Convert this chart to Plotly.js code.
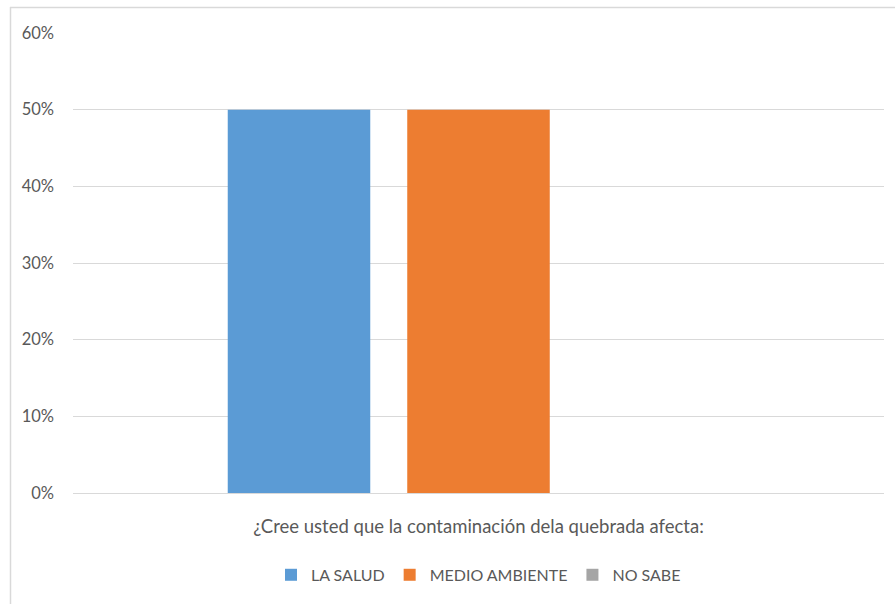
<!DOCTYPE html>
<html>
<head>
<meta charset="utf-8">
<script src="https://cdn.plot.ly/plotly-3.0.1.min.js"></script>
<style>html,body{margin:0;padding:0;background:#fff}#chart{width:895px;height:604px}</style>
</head>
<body>
<div id="chart"></div>
<script>
const category = ["¿Cree usted que la contaminación dela quebrada afecta:"];
const seriesNames = ["LA SALUD", "MEDIO AMBIENTE", "NO SABE"];
const laSalud = [0.5];
const medioAmbiente = [0.5];
const noSabe = [0];
const colors = ["#5B9BD5", "#ED7D31", "#A5A5A5"];
const tickVals = [0, 0.1, 0.2, 0.3, 0.4, 0.5, 0.6];
const tickText = ["0%", "10%", "20%", "30%", "40%", "50%", "60%"];

const values = [laSalud, medioAmbiente, noSabe];
const traces = seriesNames.map((n, i) => ({
  type: "bar",
  name: n,
  x: category,
  y: values[i],
  marker: {color: colors[i]},
  hoverinfo: "none"
}));

const W = 811, H = 460;
const layout = {
  width: 895, height: 604,
  margin: {l: 73, r: 11, t: 33, b: 111},
  paper_bgcolor: "#fff", plot_bgcolor: "#fff",
  font: {family: "Lato, sans-serif", color: "#595959", size: 16},
  barmode: "group",
  bargap: 0.336,
  bargroupgap: 0.206,
  showlegend: true,
  legend: {orientation: "h", x: 0.5, xanchor: "center", y: -0.178, yanchor: "middle",
           font: {size: 16, color: "#595959"}, itemwidth: 30, traceorder: "normal"},
  xaxis: {
    showticklabels: false, showgrid: false, zeroline: false, showline: false, ticks: "",
    title: {text: category[0], font: {size: 18.5, color: "#595959"}, standoff: 27}
  },
  yaxis: {
    range: [0, 0.6], tickvals: tickVals, ticktext: tickText,
    showgrid: true, gridcolor: "#D9D9D9", gridwidth: 1,
    zeroline: true, zerolinecolor: "#D9D9D9", zerolinewidth: 1,
    showline: false, ticks: "", ticklabelstandoff: 18,
    tickfont: {size: 16.5, color: "#595959"}
  },
  shapes: [
    {type: "line", xref: "paper", yref: "paper", x0: (10 - 73) / W, x1: (895 - 73) / W,
     y0: 1 + (33 - 7.5) / H, y1: 1 + (33 - 7.5) / H, line: {color: "#D9D9D9", width: 1.5}},
    {type: "line", xref: "paper", yref: "paper", x0: (10.5 - 73) / W, x1: (10.5 - 73) / W,
     y0: 1 + (33 - 7) / H, y1: -(111 + 5) / H, line: {color: "#D9D9D9", width: 1.5}}
  ]
};

Plotly.newPlot("chart", traces, layout, {displayModeBar: false, staticPlot: true});
</script>
</body>
</html>
